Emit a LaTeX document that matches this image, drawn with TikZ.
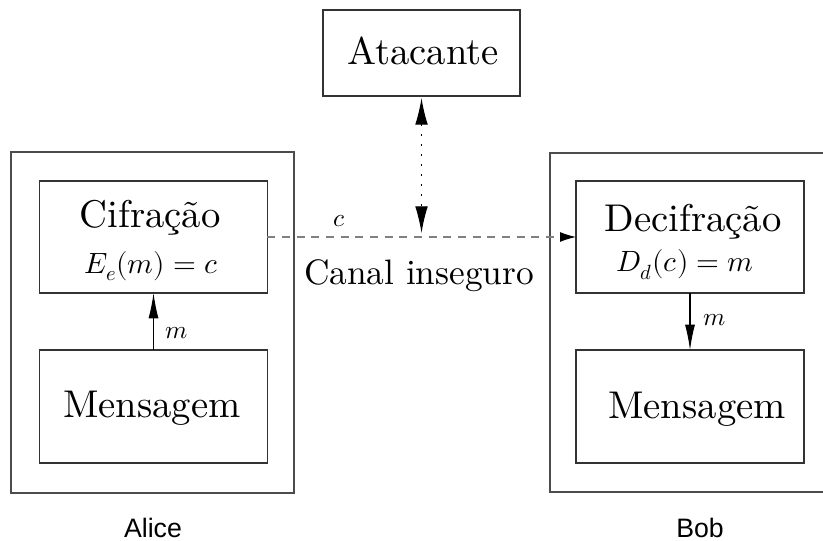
\documentclass[tikz,border=0pt]{standalone}
\usepackage{unicode-math}
\setmainfont{lmroman10-regular.otf}[BoldFont=lmroman10-bold.otf, ItalicFont=lmroman10-italic.otf]
\newfontfamily\labelfont{Liberation Sans}
\usetikzlibrary{arrows.meta}
\tikzset{
  frame/.style={draw=black!70, line width=0.8pt, inner sep=0pt, outer sep=0pt},
  inbox/.style={draw=black!80, line width=0.8pt, inner sep=0pt, outer sep=0pt, minimum width=170.5pt},
  bigtxt/.style={anchor=base, inner sep=0pt, font=\fontsize{29}{33}\selectfont},
  mathtxt/.style={anchor=base, inner sep=0pt, font=\fontsize{22}{26}\selectfont},
  midtxt/.style={anchor=base, inner sep=0pt, font=\fontsize{26.5}{30}\selectfont},
  smalltxt/.style={anchor=base, inner sep=0pt, font=\fontsize{19}{22}\selectfont},
  nametxt/.style={anchor=base, inner sep=0pt, font=\labelfont\fontsize{20}{24}\selectfont},
  solidarr/.style={-{Latex[length=19pt,width=7.5pt]}, line width=0.8pt, black},
  chanarr/.style={-{Latex[length=12pt,width=7.5pt,color=black]}, draw=black!50, line width=0.8pt, dash pattern=on 6pt off 5pt},
  dotarr/.style={{Latex[length=20pt,width=9.5pt]}-{Latex[length=20pt,width=9.5pt]}, line width=0.9pt, dash pattern=on 1.5pt off 6pt},
}
\begin{document}
\begin{tikzpicture}[x=0.75pt,y=-0.75pt]
\clip (0,0) rectangle (823,541);
\fill[white] (0,0) rectangle (823,541);
% outer frames
\node[frame, minimum width=212.25pt, minimum height=255.75pt] (alice) at (152.5,322.5) {};
\node[frame, minimum width=217.5pt, minimum height=254.25pt] (bob) at (695,322.5) {};
% inner boxes
\node[inbox, minimum height=84pt] (cif) at (153.5,237) {};
\node[inbox, minimum height=84.75pt] (mensA) at (153.5,406.5) {};
\node[inbox, minimum width=171pt, minimum height=84pt] (dec) at (690,237) {};
\node[inbox, minimum width=171pt, minimum height=84.75pt] (mensB) at (690,406.5) {};
\node[inbox, minimum width=147.75pt, minimum height=64.5pt] (atac) at (421.5,53) {};
% texts
\node[bigtxt] (tcif) at (150,228) {Cifração};
\node[mathtxt] (tenc) at (151,273) {$E_e(m) = c$};
\node[bigtxt] (tmensA) at (152,417) {Mensagem};
\node[bigtxt] (tatac) at (423,65) {Atacante};
\node[bigtxt] (tdec) at (693,232) {Decifração};
\node[mathtxt] (tdecf) at (685,272) {$D_d(c) = m$};
\node[bigtxt] (tmensB) at (697,418) {Mensagem};
\node[midtxt] (tcanal) at (419,285) {Canal inseguro};
\node[smalltxt] (tc) at (339,227) {$c$};
\node[smalltxt] (tmA) at (177,338) {$m$};
\node[smalltxt] (tmB) at (715,325) {$m$};
\node[nametxt] (talice) at (153,537) {Alice};
\node[nametxt] (tbob) at (700,537) {Bob};
% connectors
\coordinate (ch) at (421.5,237);
\draw[solidarr] (mensA.north) -- (cif.south);
\draw[solidarr] (dec.south) -- (mensB.north);
\draw[chanarr] (cif.east) -- (dec.west);
\draw[dotarr, shorten <=1.5pt, shorten >=3pt] (atac.south) -- (ch);
\end{tikzpicture}
\end{document}
